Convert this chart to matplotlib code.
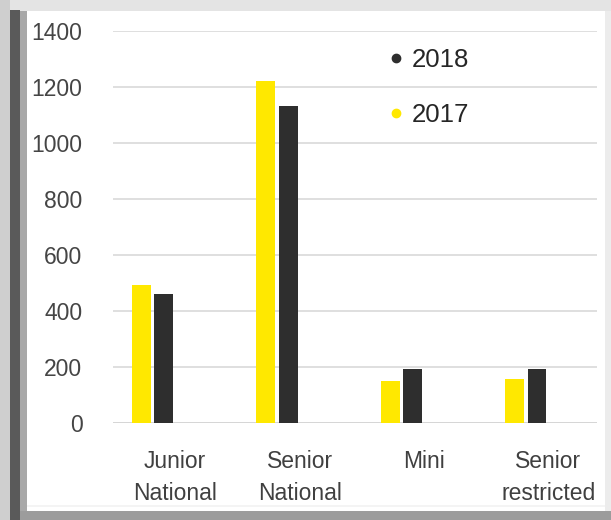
import numpy as np
import matplotlib
matplotlib.use('Agg')
import matplotlib.pyplot as plt
from matplotlib.patches import Rectangle
from matplotlib.lines import Line2D

# data
categories = ['Junior\nNational', 'Senior\nNational', 'Mini', 'Senior\nrestricted']
values_2017 = [490, 1220, 150, 155]
values_2018 = [460, 1130, 190, 190]
yticks = [0, 200, 400, 600, 800, 1000, 1200, 1400]

W, H = 611, 520
fig = plt.figure(figsize=(W / 100, H / 100), dpi=100)
fig.patch.set_facecolor('white')


def px_rect(x0, y0, x1, y1, color):
    # rectangle given in pixel coords, y from the top
    fig.patches.append(Rectangle((x0 / W, 1 - y1 / H), (x1 - x0) / W, (y1 - y0) / H,
                                 transform=fig.transFigure, facecolor=color,
                                 edgecolor='none', zorder=-10))


# frame round the picture
px_rect(0, 0, W, 11, '#e4e4e4')
px_rect(0, 0, 10, H, '#cfcfcf')
px_rect(10, 10, 20, H, '#5a5a5a')
px_rect(20, 11, 27, H, '#a8a8a8')
px_rect(605, 11, W, H, '#ececec')
px_rect(20, 511, W, H, '#9c9c9c')
px_rect(27, 505, 605, 507, '#f4f4f4')

ax = fig.add_axes([113 / W, 1 - 422.7 / H, (597 - 113) / W, (422.7 - 30.7) / H])
ax.set_facecolor('none')

x = np.arange(len(categories))
width = 0.152
ax.bar(x - 0.273, values_2017, width, color='#ffe800', zorder=3)
ax.bar(x - 0.092, values_2018, width, color='#2e2e2e', zorder=3)

ax.set_ylim(0, 1400)
ax.set_xlim(-0.5, 3.39)
ax.set_yticks(yticks)
ax.yaxis.grid(True, color='#d9d9d9', linewidth=1.2, zorder=0)
ax.axhline(0, color='#bfbfbf', linewidth=1.2, zorder=1)

for s in ax.spines.values():
    s.set_visible(False)

ax.tick_params(axis='both', length=0)
ax.set_yticklabels([str(t) for t in yticks], fontsize=16.5, color='#454545',
                   family='Liberation Sans')
ax.tick_params(axis='y', pad=22)
ax.set_xticks(x)
ax.set_xticklabels(categories, fontsize=16.5, color='#404040', family='Liberation Sans',
                   linespacing=1.45)
ax.tick_params(axis='x', pad=20)

handles = [Line2D([], [], marker='o', linestyle='none', color='#2e2e2e', markersize=6),
           Line2D([], [], marker='o', linestyle='none', color='#ffe800', markersize=6)]
ax.legend(handles, ['2018', '2017'], loc='upper left', bbox_to_anchor=(0.52, 1.016),
          frameon=False, prop={'family': 'Liberation Sans', 'size': 18.5},
          labelspacing=1.22, handlelength=0.6, handletextpad=0.35, labelcolor='#262626')

fig.savefig('out.png', dpi=100)
